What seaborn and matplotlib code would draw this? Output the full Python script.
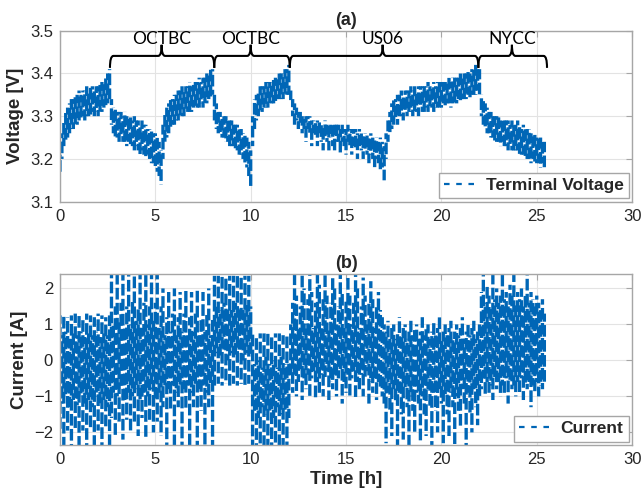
import numpy as np
import pandas as pd
import matplotlib
matplotlib.use("Agg")
import matplotlib.pyplot as plt
from matplotlib.path import Path
from matplotlib.patches import PathPatch
import seaborn as sns

# ---------------- data (0.1 h steps) ----------------
time_h = [round(0.1 * i, 1) for i in range(255)]  # 0.0 ... 25.4 h

volt_low = [
    # 0.0-2.6
    3.17, 3.20, 3.23, 3.24, 3.25, 3.26, 3.27, 3.27, 3.28, 3.28,
    3.29, 3.29, 3.30, 3.29, 3.30, 3.30, 3.30, 3.31, 3.30, 3.31,
    3.30, 3.31, 3.31, 3.32, 3.32, 3.33, 3.34,
    # 2.7-5.3
    3.28, 3.26, 3.25, 3.25, 3.24, 3.25, 3.24, 3.24, 3.23, 3.24,
    3.23, 3.23, 3.22, 3.23, 3.22, 3.21, 3.22, 3.21, 3.20, 3.21,
    3.20, 3.19, 3.19, 3.18, 3.17, 3.16, 3.14,
    # 5.4-8.0
    3.20, 3.24, 3.25, 3.26, 3.27, 3.28, 3.28, 3.29, 3.29, 3.30,
    3.30, 3.30, 3.31, 3.31, 3.31, 3.31, 3.32, 3.32, 3.32, 3.32,
    3.33, 3.32, 3.33, 3.33, 3.34, 3.34, 3.35,
    # 8.1-10.0
    3.29, 3.27, 3.26, 3.26, 3.25, 3.25, 3.24, 3.24, 3.23, 3.23,
    3.23, 3.22, 3.22, 3.21, 3.21, 3.20, 3.19, 3.18, 3.16, 3.13,
    # 10.1-12.0
    3.23, 3.27, 3.29, 3.30, 3.31, 3.31, 3.32, 3.32, 3.32, 3.33,
    3.33, 3.33, 3.33, 3.34, 3.34, 3.34, 3.34, 3.35, 3.35, 3.35,
    # 12.1-17.0
    3.33, 3.30, 3.28, 3.29, 3.27, 3.28, 3.26, 3.27, 3.24, 3.27,
    3.26, 3.23, 3.26, 3.25, 3.23, 3.26, 3.24, 3.22, 3.25, 3.24,
    3.22, 3.25, 3.23, 3.22, 3.24, 3.24, 3.21, 3.24, 3.23, 3.21,
    3.24, 3.23, 3.21, 3.23, 3.22, 3.20, 3.23, 3.22, 3.20, 3.22,
    3.21, 3.19, 3.21, 3.20, 3.18, 3.20, 3.19, 3.17, 3.18, 3.15,
    # 17.1-22.0
    3.20, 3.24, 3.26, 3.27, 3.28, 3.29, 3.28, 3.30, 3.30, 3.29,
    3.31, 3.30, 3.31, 3.31, 3.30, 3.31, 3.31, 3.30, 3.32, 3.31,
    3.31, 3.32, 3.31, 3.32, 3.32, 3.31, 3.32, 3.32, 3.32, 3.32,
    3.33, 3.32, 3.33, 3.33, 3.32, 3.33, 3.33, 3.33, 3.34, 3.33,
    3.34, 3.34, 3.34, 3.35, 3.34, 3.35, 3.35, 3.35, 3.36, 3.35,
    # 22.1-25.4
    3.30, 3.28, 3.27, 3.26, 3.26, 3.25, 3.25, 3.24, 3.24, 3.24,
    3.23, 3.24, 3.23, 3.23, 3.22, 3.23, 3.22, 3.22, 3.22, 3.22,
    3.21, 3.21, 3.21, 3.20, 3.20, 3.20, 3.19, 3.20, 3.19, 3.19,
    3.19, 3.18, 3.19, 3.18,
]
volt_high = [
    # 0.0-2.6
    3.21, 3.26, 3.29, 3.31, 3.32, 3.33, 3.34, 3.34, 3.35, 3.35,
    3.36, 3.35, 3.36, 3.36, 3.37, 3.36, 3.37, 3.37, 3.36, 3.37,
    3.37, 3.38, 3.38, 3.38, 3.39, 3.40, 3.41,
    # 2.7-5.3
    3.34, 3.32, 3.32, 3.31, 3.31, 3.31, 3.30, 3.31, 3.30, 3.30,
    3.30, 3.29, 3.30, 3.29, 3.29, 3.28, 3.29, 3.28, 3.28, 3.27,
    3.27, 3.27, 3.26, 3.26, 3.25, 3.24, 3.22,
    # 5.4-8.0
    3.28, 3.31, 3.32, 3.33, 3.34, 3.34, 3.35, 3.35, 3.36, 3.36,
    3.37, 3.36, 3.37, 3.37, 3.38, 3.37, 3.38, 3.38, 3.38, 3.39,
    3.38, 3.39, 3.39, 3.40, 3.40, 3.41, 3.41,
    # 8.1-10.0
    3.35, 3.33, 3.31, 3.31, 3.30, 3.30, 3.30, 3.29, 3.29, 3.29,
    3.28, 3.28, 3.28, 3.27, 3.27, 3.26, 3.26, 3.25, 3.24, 3.22,
    # 10.1-12.0
    3.30, 3.34, 3.35, 3.36, 3.37, 3.37, 3.37, 3.38, 3.38, 3.38,
    3.38, 3.39, 3.39, 3.39, 3.40, 3.40, 3.40, 3.41, 3.41, 3.42,
    # 12.1-17.0
    3.36, 3.34, 3.33, 3.32, 3.31, 3.31, 3.30, 3.30, 3.30, 3.30,
    3.30, 3.29, 3.29, 3.29, 3.29, 3.29, 3.28, 3.28, 3.29, 3.28,
    3.28, 3.28, 3.28, 3.28, 3.28, 3.28, 3.27, 3.28, 3.27, 3.27,
    3.28, 3.27, 3.27, 3.27, 3.27, 3.26, 3.27, 3.26, 3.26, 3.26,
    3.26, 3.25, 3.26, 3.25, 3.25, 3.25, 3.24, 3.25, 3.24, 3.23,
    # 17.1-22.0
    3.26, 3.29, 3.31, 3.33, 3.34, 3.34, 3.35, 3.35, 3.36, 3.35,
    3.36, 3.36, 3.36, 3.37, 3.36, 3.37, 3.36, 3.37, 3.37, 3.37,
    3.37, 3.37, 3.38, 3.37, 3.37, 3.38, 3.37, 3.38, 3.38, 3.38,
    3.38, 3.38, 3.38, 3.39, 3.38, 3.39, 3.39, 3.39, 3.39, 3.40,
    3.39, 3.40, 3.40, 3.41, 3.40, 3.41, 3.41, 3.42, 3.41, 3.41,
    # 22.1-25.4
    3.35, 3.34, 3.33, 3.32, 3.31, 3.31, 3.30, 3.30, 3.30, 3.30,
    3.29, 3.29, 3.29, 3.29, 3.29, 3.28, 3.29, 3.28, 3.28, 3.29,
    3.28, 3.27, 3.28, 3.27, 3.27, 3.27, 3.26, 3.26, 3.26, 3.25,
    3.25, 3.25, 3.24, 3.24,
]

curr_low = [
    # 0.0-2.6
    -1.90, -1.20, -2.35, -1.00, -1.95, -1.30, -2.35, -1.10, -1.90, -1.25,
    -2.35, -1.00, -1.95, -1.20, -2.35, -1.10, -1.90, -1.30, -2.35, -1.00,
    -1.95, -1.20, -2.35, -1.10, -1.90, -1.30, -2.35,
    # 2.7-5.3
    -1.60, -0.90, -2.10, -1.00, -1.70, -0.80, -2.20, -1.10, -1.65, -0.90,
    -2.00, -1.00, -1.70, -0.80, -2.10, -1.10, -1.60, -0.90, -2.20, -1.00,
    -1.65, -0.80, -2.00, -1.10, -1.70, -0.90, -2.10,
    # 5.4-8.0
    -1.30, -0.70, -2.35, -0.80, -1.40, -0.70, -2.35, -0.90, -1.30, -0.70,
    -2.35, -0.80, -1.40, -0.70, -2.35, -0.90, -1.30, -0.70, -2.35, -0.80,
    -1.40, -0.70, -2.35, -0.90, -1.30, -0.70, -2.35,
    # 8.1-10.0
    -0.70, 0.20, -0.65, 0.10, -0.70, 0.30, -0.65, 0.00, -0.70, 0.20,
    -0.65, 0.10, -0.70, 0.30, -0.65, 0.00, -0.70, 0.20, -0.65, 0.10,
    # 10.1-12.0
    -2.35, -1.40, -2.35, -1.60, -2.35, -1.30, -2.35, -1.50, -2.35, -1.40,
    -2.35, -1.60, -2.35, -1.30, -2.35, -1.50, -2.35, -1.40, -2.35, -1.60,
    # 12.1-17.0
    -0.50, -0.90, -0.40, -1.00, -0.60, -0.30, -1.10, -0.50, -0.80, -0.40,
    -1.00, -0.50, -0.30, -1.10, -0.60, -0.90, -0.40, -1.00, -0.50, -0.30,
    -1.10, -0.60, -0.80, -0.40, -1.00, -0.50, -0.30, -1.20, -0.60, -0.90,
    -0.40, -1.00, -0.50, -0.30, -1.10, -0.60, -0.80, -0.40, -1.00, -0.50,
    -0.30, -1.20, -0.60, -0.90, -0.50, -1.10, -0.60, -0.80, -1.00, -1.20,
    # 17.1-22.0
    -2.30, -0.90, -1.40, -2.10, -0.80, -1.20, -2.35, -0.90, -1.50, -2.20,
    -0.80, -1.30, -2.35, -1.00, -1.40, -2.00, -0.90, -1.20, -2.30, -1.00,
    -1.50, -2.10, -0.80, -1.30, -2.35, -0.90, -1.40, -2.00, -0.80, -1.20,
    -2.30, -1.00, -1.50, -2.10, -0.90, -1.30, -2.35, -1.00, -1.40, -1.90,
    -0.80, -1.20, -2.35, -0.90, -1.50, -2.00, -0.80, -1.30, -1.80, -1.00,
    # 22.1-25.4
    -0.80, -0.50, -1.00, -0.60, -0.90, -0.70, -1.10, -0.50, -0.80, -0.60,
    -1.00, -0.70, -0.90, -0.50, -1.20, -0.60, -0.80, -0.70, -1.00, -0.60,
    -0.90, -0.50, -1.10, -0.70, -0.80, -0.60, -1.30, -0.70, -0.90, -0.60,
    -1.00, -0.70, -0.80, -0.60,
]
curr_high = [
    # 0.0-2.6
    1.25, 0.70, 1.30, 0.80, 1.20, 0.60, 1.25, 0.75, 1.30, 0.70,
    1.25, 0.80, 1.20, 0.65, 1.30, 0.75, 1.25, 0.70, 1.20, 0.80,
    1.30, 0.65, 1.25, 0.75, 1.20, 0.70, 1.25,
    # 2.7-5.3
    2.40, 1.00, 1.50, 2.40, 1.10, 1.60, 2.40, 0.90, 1.50, 2.40,
    1.00, 1.70, 2.40, 1.10, 1.50, 2.40, 0.90, 1.60, 2.40, 1.00,
    1.50, 2.40, 1.10, 1.60, 2.40, 0.90, 1.50,
    # 5.4-8.0
    2.00, 0.70, 1.20, 1.90, 0.80, 1.30, 2.00, 0.70, 1.20, 1.90,
    0.80, 1.30, 2.00, 0.70, 1.20, 1.90, 0.80, 1.30, 2.00, 0.70,
    1.20, 1.90, 0.80, 1.30, 2.00, 0.70, 1.20,
    # 8.1-10.0
    2.35, 1.50, 2.35, 1.40, 2.35, 1.60, 2.35, 1.50, 2.35, 1.40,
    2.35, 1.60, 2.35, 1.50, 2.35, 1.40, 2.35, 1.60, 2.35, 1.50,
    # 10.1-12.0
    0.75, -0.10, 0.70, 0.00, 0.75, -0.20, 0.75, 0.10, 0.75, -0.10,
    0.70, 0.00, 0.75, -0.20, 0.75, 0.10, 0.70, -0.10, 0.75, 0.00,
    # 12.1-17.0
    1.00, 1.60, 2.40, 1.80, 0.90, 1.50, 2.40, 2.00, 1.00, 1.70,
    2.40, 1.90, 0.90, 1.60, 2.40, 2.10, 1.00, 1.70, 2.40, 1.80,
    0.90, 1.60, 2.40, 2.00, 1.00, 1.50, 2.40, 1.90, 0.90, 1.70,
    2.40, 1.80, 1.00, 1.60, 2.40, 2.00, 0.90, 1.50, 2.30, 1.80,
    1.00, 1.60, 2.20, 1.70, 0.90, 1.50, 1.90, 1.40, 1.20, 1.00,
    # 17.1-22.0
    0.80, 1.10, 0.60, 0.90, 1.00, 0.60, 0.80, 1.20, 0.70, 0.90,
    1.00, 0.60, 0.80, 1.10, 0.70, 0.90, 1.00, 0.60, 0.80, 1.20,
    0.70, 0.90, 1.00, 0.60, 0.80, 1.10, 0.70, 0.90, 1.20, 0.60,
    0.80, 1.00, 0.70, 0.90, 1.10, 0.60, 0.80, 1.00, 0.70, 0.90,
    1.20, 0.60, 0.80, 1.00, 0.70, 0.90, 1.10, 0.60, 0.80, 1.00,
    # 22.1-25.4
    1.90, 2.40, 1.60, 2.10, 1.80, 1.50, 2.40, 1.70, 2.00, 1.60,
    1.80, 2.40, 1.70, 1.90, 1.50, 2.10, 1.80, 2.40, 1.60, 1.90,
    1.70, 2.00, 1.50, 1.80, 2.40, 1.60, 1.90, 1.70, 1.50, 1.80,
    1.60, 1.40, 1.70, 1.30,
]

cycle_names = ["OCTBC", "OCTBC", "US06", "NYCC"]
cycle_start = [2.62, 8.09, 12.05, 21.94]
cycle_end = [8.09, 12.05, 21.94, 25.54]
cycle_mid = [5.33, 10.0, 16.92, 23.7]

# ------- long-form tables: each time step is one vertical low->high stroke -------
n = len(time_h)
t_arr = np.repeat(np.asarray(time_h), 2)
step = np.repeat(np.arange(n), 2)
v_arr = np.column_stack([volt_low, volt_high]).ravel()
i_arr = np.column_stack([curr_low, curr_high]).ravel()
df_v = pd.DataFrame({"t": t_arr, "v": v_arr, "step": step})
df_i = pd.DataFrame({"t": t_arr, "i": i_arr, "step": step})

# ---------------- style ----------------
sns.set_style("white")
plt.rcParams["font.family"] = ["Liberation Sans", "DejaVu Sans"]
BLUE = "#0066B6"
SPINE = "#a6a6a6"
DASH_ON, DASH_OFF = 3.5, 1.0

fig = plt.figure(figsize=(6.43, 4.99), dpi=100)
ax1 = fig.add_axes([0.0933, 0.5958, 0.8897, 0.3427])
ax2 = fig.add_axes([0.0933, 0.1082, 0.8897, 0.3427])

sns.lineplot(data=df_v, x="t", y="v", units="step", sort=False, estimator=None,
             ax=ax1, color=BLUE, linewidth=2.4, linestyle="--")
sns.lineplot(data=df_i, x="t", y="i", units="step", sort=False, estimator=None,
             ax=ax2, color=BLUE, linewidth=2.4, linestyle="--")

# dash phase varies from stroke to stroke (styling only, deterministic)
for ax in (ax1, ax2):
    for k, ln in enumerate(ax.lines):
        phase = ((k * 0.618034) % 1.0) * (DASH_ON + DASH_OFF)
        ln.set_linestyle((phase, (DASH_ON, DASH_OFF)))
        ln.set_snap(False)

labels = ["Terminal Voltage", "Current"]
for ax, lab in zip((ax1, ax2), labels):
    ax.set_xlim(0, 30)
    ax.set_xticks([0, 5, 10, 15, 20, 25, 30])
    ax.grid(True, color="#e3e3e3", linewidth=0.8)
    ax.set_axisbelow(True)
    for s in ax.spines.values():
        s.set_visible(True)
        s.set_color(SPINE)
        s.set_linewidth(1.0)
    ax.tick_params(direction="in", length=4, width=0.8, color=SPINE,
                   labelsize=12, top=True, right=True, labelcolor="#262626", pad=5)
    handle = plt.Line2D([], [], color=BLUE, linewidth=1.6, linestyle=(0, (2.5, 3.0)))
    leg = ax.legend([handle], [lab], loc="lower right", fancybox=False, framealpha=1,
                    edgecolor=SPINE, borderaxespad=0.2, handlelength=1.8,
                    borderpad=0.3, handletextpad=0.6,
                    prop={"weight": "bold", "size": 12.5})
    leg.get_frame().set_linewidth(1.0)

ax1.set_ylim(3.1, 3.5)
ax1.set_yticks([3.1, 3.2, 3.3, 3.4, 3.5])
ax1.set_xlabel("")
ax1.set_ylabel("Voltage [V]", fontsize=13.5, fontweight="bold", labelpad=4)
ax1.set_title("(a)", fontsize=13, fontweight="bold", pad=4)

ax2.set_ylim(-2.35, 2.4)
ax2.set_yticks([-2, -1, 0, 1, 2])
ax2.set_xlabel("Time [h]", fontsize=13.5, fontweight="bold", labelpad=3)
ax2.set_ylabel("Current [A]", fontsize=13.5, fontweight="bold", labelpad=4)
ax2.set_title("(b)", fontsize=13, fontweight="bold", pad=4)

# ---------------- curly braces with cycle names ----------------
y_end, y_line, y_tip = 3.413, 3.441, 3.467
dx = 0.18
for name, x0, x1, xm in zip(cycle_names, cycle_start, cycle_end, cycle_mid):
    verts = [
        (x0, y_end), (x0, y_line), (x0 + dx, y_line),
        (xm - dx, y_line),
        (xm, y_line), (xm, y_tip),
        (xm, y_line), (xm + dx, y_line),
        (x1 - dx, y_line),
        (x1, y_line), (x1, y_end),
    ]
    codes = [Path.MOVETO, Path.CURVE3, Path.CURVE3,
             Path.LINETO,
             Path.CURVE3, Path.CURVE3,
             Path.CURVE3, Path.CURVE3,
             Path.LINETO,
             Path.CURVE3, Path.CURVE3]
    patch = PathPatch(Path(verts, codes), facecolor="none", edgecolor="black",
                      linewidth=1.5, clip_on=False, zorder=5)
    ax1.add_patch(patch)
    ax1.text(xm, 3.461, name, ha="center", va="bottom", fontsize=12.5,
             family=["Lato", "DejaVu Sans"], color="black", zorder=6, clip_on=False)

fig.savefig("out.png", dpi=100)
